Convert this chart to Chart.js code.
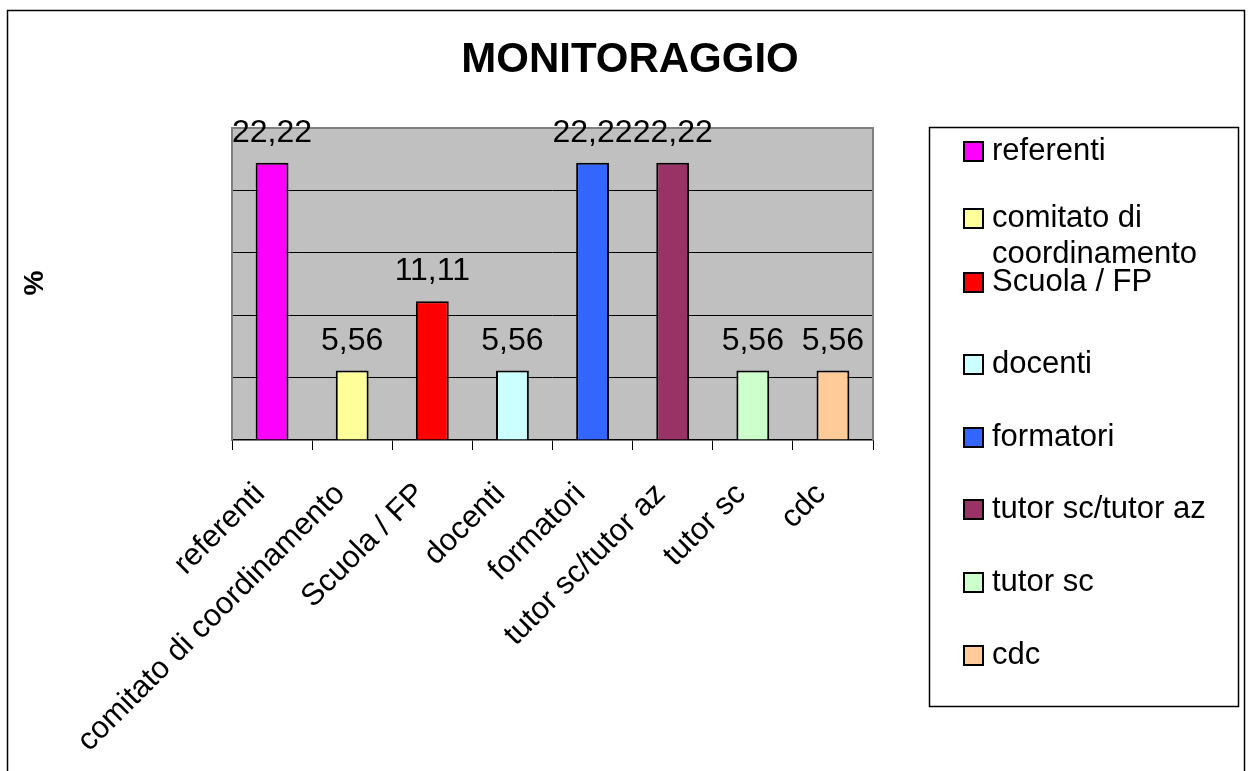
<!DOCTYPE html>
<html>
<head>
<meta charset="utf-8">
<title>MONITORAGGIO</title>
<script src="https://cdn.jsdelivr.net/npm/chart.js@4.4.1/dist/chart.umd.min.js"></script>
<style>
    html, body { margin: 0; padding: 0; background: #fff; overflow: hidden; }
    #wrap { position: relative; width: 1250px; height: 771px; }
</style>
</head>
<body>
<div id="wrap"><canvas id="monitorChart"></canvas></div>
<script>
// Data
const categories = ['referenti', 'comitato di coordinamento', 'Scuola / FP', 'docenti', 'formatori', 'tutor sc/tutor az', 'tutor sc', 'cdc'];
const percentages = [22.22, 5.56, 11.11, 5.56, 22.22, 22.22, 5.56, 5.56];
const barColors = ['#FF00FF', '#FFFF99', '#FF0000', '#CCFFFF', '#3366FF', '#993366', '#CCFFCC', '#FFCC99'];
const yTicks = [0, 5, 10, 15, 20, 25];
const chartTitle = 'MONITORAGGIO';
const yTitle = '%';

const FONT = "'Liberation Sans', Arial, sans-serif";

// Legend rows (y centre of the first line of each entry)
const legendRowY = [151, 218, 282, 364, 437, 509, 582, 655];

const fmt = (v) => v.toFixed(2).replace('.', ',');

// white page, outer frame, grey plot area
const backdrop = {
    id: 'backdrop',
    beforeDraw(chart) {
        const ctx = chart.ctx;
        const a = chart.chartArea;
        ctx.save();
        ctx.fillStyle = '#fff';
        ctx.fillRect(0, 0, chart.width, chart.height);
        ctx.strokeStyle = '#000';
        ctx.lineWidth = 1.5;
        ctx.strokeRect(7.5, 10.5, 1237, 800);
        ctx.fillStyle = '#C0C0C0';
        ctx.fillRect(a.left, a.top, a.right - a.left, a.bottom - a.top);
        ctx.restore();
    },
    beforeDatasetsDraw(chart) {
        const ctx = chart.ctx;
        const a = chart.chartArea;
        ctx.save();
        ctx.strokeStyle = '#808080';
        ctx.lineWidth = 2;
        ctx.beginPath();
        ctx.moveTo(a.left, a.bottom);
        ctx.lineTo(a.left, a.top);
        ctx.lineTo(a.right, a.top);
        ctx.lineTo(a.right, a.bottom);
        ctx.stroke();
        ctx.restore();
    }
};

// value labels above the bars
const valueLabels = {
    id: 'valueLabels',
    afterDatasetsDraw(chart) {
        const ctx = chart.ctx;
        const meta = chart.getDatasetMeta(0);
        ctx.save();
        ctx.fillStyle = '#000';
        ctx.font = '32px ' + FONT;
        ctx.textAlign = 'center';
        ctx.textBaseline = 'alphabetic';
        meta.data.forEach((bar, i) => {
            ctx.fillText(fmt(percentages[i]), bar.x, bar.y - 21);
        });
        ctx.restore();
    }
};

// title, axis title and the boxed legend
const decorations = {
    id: 'decorations',
    afterDraw(chart) {
        const ctx = chart.ctx;
        ctx.save();
        ctx.fillStyle = '#000';

        ctx.font = 'bold 42px ' + FONT;
        ctx.textAlign = 'center';
        ctx.textBaseline = 'alphabetic';
        ctx.fillText(chartTitle, 630, 72);

        ctx.save();
        ctx.translate(35, 283);
        ctx.rotate(-Math.PI / 2);
        ctx.font = 'bold 28px ' + FONT;
        ctx.textBaseline = 'middle';
        ctx.fillText(yTitle, 0, 0);
        ctx.restore();

        // legend box
        const bx = 929, by = 127, bw = 309, bh = 579;
        ctx.fillStyle = '#fff';
        ctx.fillRect(bx, by, bw, bh);
        ctx.strokeStyle = '#000';
        ctx.lineWidth = 1.5;
        ctx.strokeRect(bx + 0.5, by + 0.5, bw, bh);

        ctx.font = '31px ' + FONT;
        ctx.textAlign = 'left';
        ctx.textBaseline = 'middle';
        const textX = 992;
        const maxW = bx + bw - textX - 4;
        categories.forEach((label, i) => {
            const y = legendRowY[i];
            ctx.fillStyle = barColors[i];
            ctx.fillRect(964, y - 9, 19, 19);
            ctx.strokeStyle = '#000';
            ctx.lineWidth = 2;
            ctx.strokeRect(964, y - 9, 19, 19);

            // wrap long labels word by word
            const words = label.split(' ');
            const lines = [];
            let line = '';
            words.forEach((w) => {
                const test = line ? line + ' ' + w : w;
                if (line && ctx.measureText(test).width > maxW) {
                    lines.push(line);
                    line = w;
                } else {
                    line = test;
                }
            });
            lines.push(line);
            ctx.fillStyle = '#000';
            lines.forEach((l, k) => ctx.fillText(l, textX, y + k * 36));
        });
        ctx.restore();
    }
};

const ctx = document.getElementById('monitorChart').getContext('2d');
new Chart(ctx, {
    type: 'bar',
    data: {
        labels: categories,
        datasets: [{
            data: percentages,
            backgroundColor: barColors,
            borderColor: '#000',
            borderWidth: 2,
            barPercentage: 0.41,
            categoryPercentage: 1.0
        }]
    },
    options: {
        responsive: true,
        maintainAspectRatio: false,
        animation: false,
        layout: {
            padding: { left: 232, right: 377, top: 128, bottom: 0 }
        },
        scales: {
            x: {
                afterFit: (scale) => { scale.height = 331; },
                grid: {
                    offset: true,
                    drawOnChartArea: false,
                    tickLength: 10,
                    color: '#000',
                    lineWidth: 1
                },
                border: { color: '#000', width: 1.5 },
                ticks: {
                    autoSkip: false,
                    minRotation: 45,
                    maxRotation: 45,
                    padding: 26,
                    labelOffset: -12,
                    color: '#000',
                    font: { family: FONT, size: 31 }
                }
            },
            y: {
                min: yTicks[0],
                max: yTicks[yTicks.length - 1],
                afterFit: (scale) => { scale.width = 0; },
                ticks: { display: false, stepSize: yTicks[1] - yTicks[0] },
                border: { display: false },
                grid: {
                    drawTicks: false,
                    lineWidth: 1,
                    color: (c) => (c.tick && c.tick.value > yTicks[0] && c.tick.value < yTicks[yTicks.length - 1]) ? '#000' : 'rgba(0,0,0,0)'
                }
            }
        },
        plugins: {
            legend: { display: false },
            tooltip: { enabled: false }
        }
    },
    plugins: [backdrop, valueLabels, decorations]
});
</script>
</body>
</html>
